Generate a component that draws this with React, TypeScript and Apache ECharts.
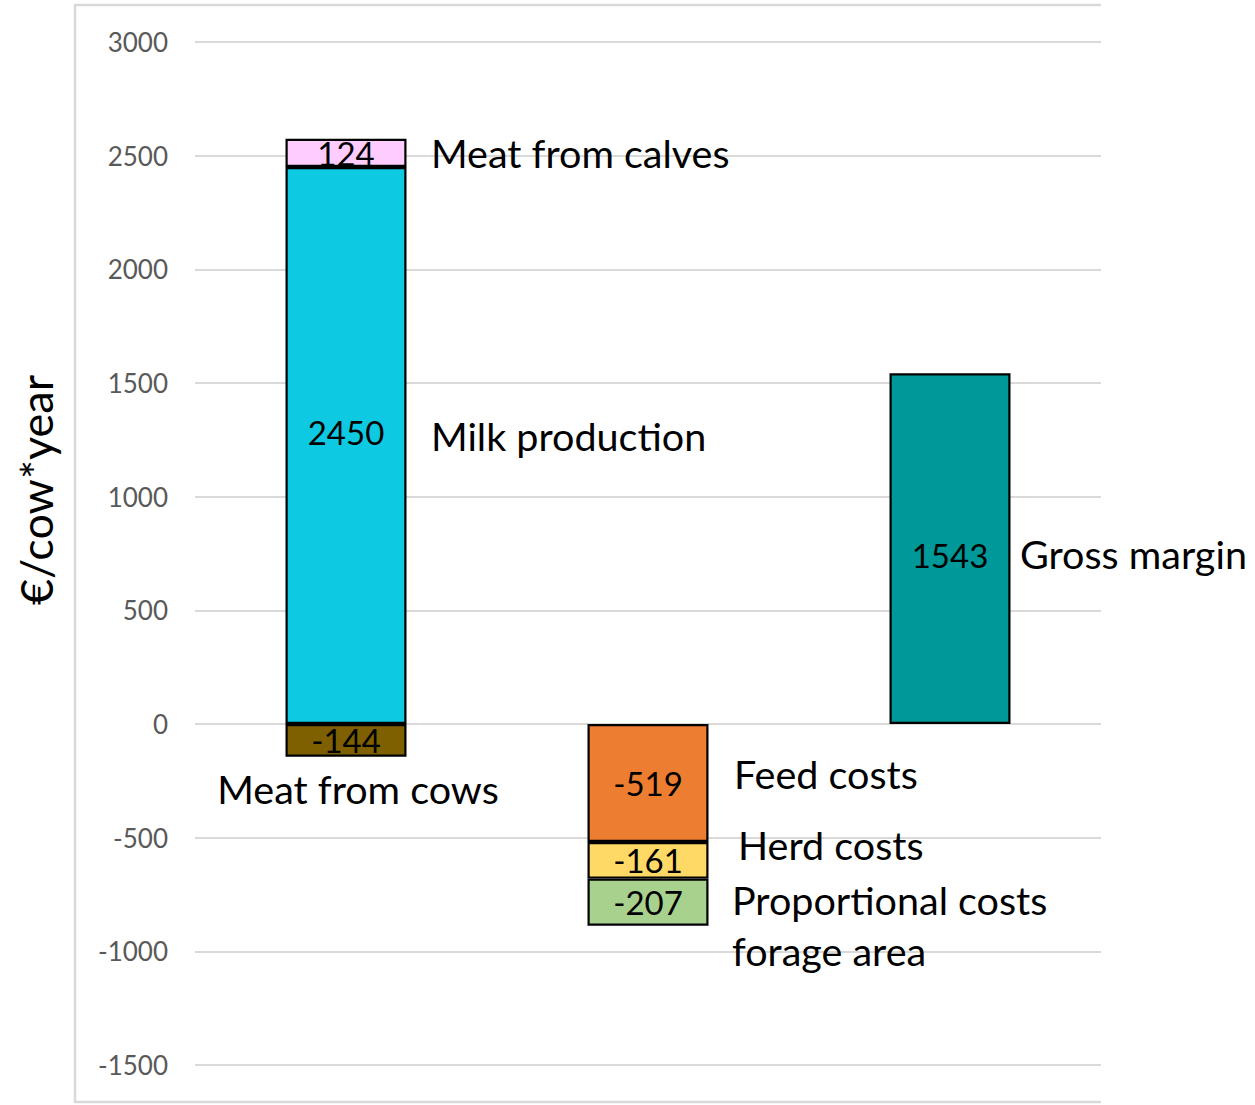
import React, { useEffect, useRef } from "react";
import * as echarts from "echarts";

// Three columns: revenues, costs, resulting gross margin (€/cow*year)
const categories = ["Revenues", "Costs", "Result"];

const milkProduction = [2450, 0, 0];
const meatFromCalves = [124, 0, 0];
const meatFromCows = [-144, 0, 0];
const feedCosts = [0, -519, 0];
const herdCosts = [0, -161, 0];
const forageAreaCosts = [0, -207, 0];
const grossMargin = [0, 0, 1543];

const yTicks = { min: -1500, max: 3000, interval: 500 };

// Descriptive names beside the stacked blocks: [category index, anchor value]
const annotationTexts = [
  "Meat from calves",
  "Milk production",
  "Meat from cows",
  "Feed costs",
  "Herd costs",
  "Proportional costs\nforage area",
  "Gross margin",
];
const annotationAnchors: [number, number][] = [
  [0, 2512],
  [0, 1271],
  [0, -282],
  [1, -216],
  [1, -532],
  [1, -884],
  [2, 752],
];

const FONT = "Lato, 'Noto Sans', sans-serif";
const annotationDx = [85, 85, 12, 86, 90, 84, 70];
const annotationAlign = ["left", "left", "center", "left", "left", "left", "left"];

function App() {
  const ref = useRef<HTMLDivElement>(null);

  useEffect(() => {
    document.body.style.margin = "0";
    const chart = echarts.init(ref.current!, null, { renderer: "svg" });

    const barBase = (name: string, data: number[], color: string, labelOffset: [number, number] = [0, 0]) => ({
      name,
      type: "bar",
      stack: "total",
      barWidth: 121,
      data: data.map((v) => (v === 0 ? null : v)),
      itemStyle: { color, borderColor: "#000", borderWidth: 2.2 },
      label: {
        show: true,
        position: "inside",
        offset: labelOffset,
        color: "#000",
        fontSize: 33,
        fontFamily: FONT,
        formatter: (p: any) => String(p.value),
      },
    });

    chart.setOption({
      animation: false,
      backgroundColor: "#fff",
      grid: { left: 195, right: 154, top: 42, bottom: 40, containLabel: false },
      xAxis: {
        type: "category",
        data: categories,
        axisLine: { show: false },
        axisTick: { show: false },
        axisLabel: { show: false },
      },
      yAxis: {
        type: "value",
        min: yTicks.min,
        max: yTicks.max,
        interval: yTicks.interval,
        axisLine: { show: false },
        axisTick: { show: false },
        axisLabel: {
          color: "#595959",
          fontSize: 26,
          fontFamily: FONT,
          margin: 27,
          formatter: (v: number) => String(v),
        },
        splitLine: { lineStyle: { color: "#D9D9D9", width: 2 } },
      },
      graphic: [
        {
          type: "polyline",
          shape: { points: [[1101, 5], [75, 5], [75, 1102], [1101, 1102]] },
          style: { stroke: "#D9D9D9", lineWidth: 2.5, fill: "none" },
          z: -1,
        },
        {
          type: "text",
          x: 36,
          y: 490,
          rotation: Math.PI / 2,
          style: {
            text: "€/cow*year",
            font: `45px ${FONT}`,
            fill: "#000",
            align: "center",
            verticalAlign: "middle",
          },
        },
      ],
      series: [
        barBase("Milk production", milkProduction, "#0DC9E1", [0, -14]),
        barBase("Meat from calves", meatFromCalves, "#FFCCFF"),
        barBase("Meat from cows", meatFromCows, "#7F6000"),
        barBase("Feed costs", feedCosts, "#ED7D31"),
        barBase("Herd costs", herdCosts, "#FFD966"),
        barBase("Proportional costs forage area", forageAreaCosts, "#A9D18E"),
        barBase("Gross margin", grossMargin, "#009999", [0, 6]),
        {
          type: "custom",
          name: "names",
          silent: true,
          data: annotationAnchors,
          renderItem: (params: any, api: any) => {
            const i = params.dataIndex;
            const pt = api.coord([api.value(0), api.value(1)]);
            return {
              type: "text",
              x: pt[0] + annotationDx[i],
              y: pt[1],
              style: {
                text: annotationTexts[i],
                font: `39.5px ${FONT}`,
                fill: "#000",
                align: annotationAlign[i],
                verticalAlign: "middle",
                lineHeight: 51,
              },
            };
          },
        },
      ],
    });

    return () => chart.dispose();
  }, []);

  return <div ref={ref} style={{ width: 1255, height: 1105 }} />;
}

export default App;
